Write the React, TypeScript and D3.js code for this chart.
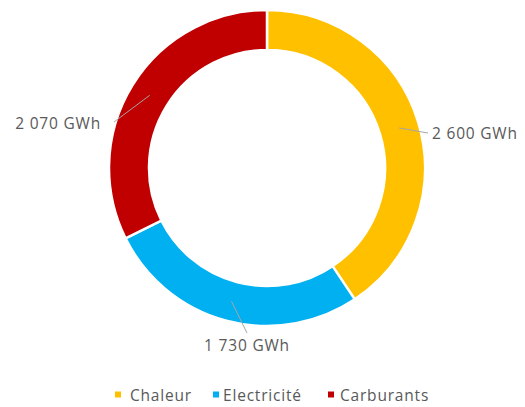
import React from "react";
import * as d3 from "d3";

const categories = ["Chaleur", "Electricité", "Carburants"];
const values = [2600, 1730, 2070];
const valueLabels = ["2 600 GWh", "1 730 GWh", "2 070 GWh"];
const colors = ["#FFC000", "#00B0F0", "#C00000"];

// label layout (elbow point, label anchor) — layout only
const labelLayout = [
  { elbow: [428, 133], text: [432, 133], anchor: "start" },
  { elbow: [247, 333], text: [247, 345], anchor: "middle" },
  { elbow: [114, 122], text: [101, 123], anchor: "end" },
];

const legendLayout = [
  { x: 115, tx: 130 },
  { x: 213, tx: 223 },
  { x: 328, tx: 340 },
];

export default function App() {
  const W = 525, H = 407;
  const cx = 267, cy = 168;
  const outer = 158, inner = 118;
  const pie = d3.pie<number>().sort(null).value((d) => d)(values);
  const arc = d3.arc<d3.PieArcDatum<number>>().innerRadius(inner).outerRadius(outer);
  const font = "'Open Sans', sans-serif";
  const textColor = "#595959";
  const fs = 15.5;
  const ls = 0.8;

  return (
    <svg width={W} height={H} style={{ position: "absolute", left: 0, top: 0 }}>
      <rect width={W} height={H} fill="#fff" />
      <g transform={`translate(${cx},${cy})`}>
        {pie.map((p, i) => (
          <path key={i} d={arc(p) || ""} fill={colors[i]} stroke="#fff" strokeWidth={2.5} />
        ))}
      </g>
      {pie.map((p, i) => {
        const mid = (p.startAngle + p.endAngle) / 2;
        const r = (inner + outer) / 2;
        const sx = cx + r * Math.sin(mid);
        const sy = cy - r * Math.cos(mid);
        const L = labelLayout[i];
        return (
          <g key={i}>
            <polyline
              points={`${sx},${sy} ${L.elbow[0]},${L.elbow[1]}`}
              fill="none"
              stroke="#A6A6A6"
              strokeWidth={1}
            />
            <text
              x={L.text[0]}
              y={L.text[1]}
              textAnchor={L.anchor as any}
              dominantBaseline="central"
              fontFamily={font}
              fontSize={fs}
              letterSpacing={ls}
              fill={textColor}
            >
              {valueLabels[i]}
            </text>
          </g>
        );
      })}
      {categories.map((c, i) => (
        <g key={c}>
          <rect x={legendLayout[i].x} y={391.5} width={6} height={6} fill={colors[i]} />
          <text
            x={legendLayout[i].tx}
            y={395}
            dominantBaseline="central"
            fontFamily={font}
            fontSize={fs}
            letterSpacing={ls}
            fill={textColor}
          >
            {c}
          </text>
        </g>
      ))}
    </svg>
  );
}
